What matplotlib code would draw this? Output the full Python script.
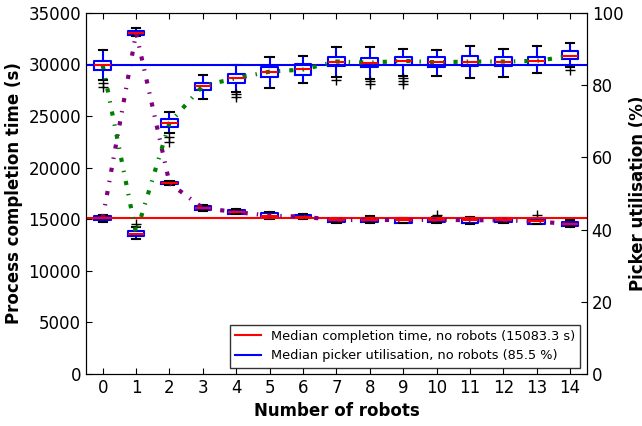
import numpy as np
import matplotlib
matplotlib.use('Agg')
import matplotlib.pyplot as plt
from matplotlib.lines import Line2D

robots = list(range(15))

# process completion time (s), per number of robots
ct_med = [15083, 33050, 18500, 16080, 15690, 15340, 15250, 14900, 14950, 14900, 14950, 14900, 14900, 14780, 14530]
ct_q1 = [14900, 32850, 18400, 15900, 15550, 15200, 15080, 14750, 14700, 14650, 14750, 14600, 14750, 14550, 14350]
ct_q3 = [15300, 33230, 18650, 16240, 15880, 15560, 15440, 15050, 15150, 15100, 15150, 15100, 15100, 14980, 14700]
ct_lo = [14750, 32750, 18280, 15830, 15470, 15060, 15000, 14650, 14600, 14600, 14650, 14550, 14650, 14500, 14250]
ct_hi = [15400, 33500, 18750, 16400, 15950, 15690, 15500, 15150, 15350, 15150, 15250, 15200, 15150, 15100, 14900]
ct_fliers = [[], [], [], [], [], [], [], [], [], [], [15450], [], [], [15450], []]

# picker utilisation (%)
ut_med = [85.5, 38.9, 69.5, 79.8, 81.9, 83.7, 84.3, 86.5, 86.2, 86.7, 86.3, 86.5, 86.5, 86.7, 88.0]
ut_q1 = [84.2, 38.1, 68.3, 78.5, 80.7, 82.3, 82.8, 85.2, 84.9, 85.6, 85.1, 85.2, 85.2, 85.6, 87.2]
ut_q3 = [86.7, 39.5, 70.6, 80.7, 83.1, 85.1, 85.8, 87.7, 87.5, 87.7, 87.8, 88.1, 87.8, 87.8, 89.5]
ut_lo = [81.5, 37.3, 66.7, 76.0, 78.0, 79.1, 80.6, 82.1, 81.7, 82.6, 82.6, 81.9, 82.1, 83.2, 85.1]
ut_hi = [89.7, 40.6, 72.4, 82.7, 85.6, 87.7, 87.9, 90.6, 90.6, 89.9, 89.8, 90.9, 89.9, 90.9, 91.7]
ut_fliers = [[80.5, 79.4], [41.4], [65.5, 64.2], [], [77.5, 76.8], [], [], [81.5],
             [81.2, 80.3], [81.9, 81.0, 80.3], [], [], [], [], [84.2]]

base_ct = 15083.3
base_ut = 85.5

plt.rcParams['font.size'] = 12
plt.rcParams['xtick.direction'] = 'in'
plt.rcParams['ytick.direction'] = 'in'
plt.rcParams['xtick.top'] = True
plt.rcParams['xtick.major.size'] = 4
plt.rcParams['ytick.major.size'] = 4
plt.rcParams['lines.scale_dashes'] = False

def make_stats(med, q1, q3, lo, hi, fl):
    return [dict(med=m, q1=a, q3=b, whislo=l, whishi=h, fliers=f)
            for m, a, b, l, h, f in zip(med, q1, q3, lo, hi, fl)]

props = dict(
    boxprops=dict(color='blue', linewidth=1.5),
    whiskerprops=dict(color='blue', linewidth=1.5, linestyle='-'),
    capprops=dict(color='black', linewidth=1.5),
    medianprops=dict(color='red', linewidth=1.5),
    flierprops=dict(marker='+', markeredgecolor='black', markersize=7),
)

dash = (0, (3, 6.5, 1, 6.5))

fig = plt.figure(figsize=(6.42, 4.26), dpi=100)
ax = fig.add_axes([0.134, 0.122, 0.780, 0.848])
ax2 = ax.twinx()

ax.bxp(make_stats(ct_med, ct_q1, ct_q3, ct_lo, ct_hi, ct_fliers), positions=robots, widths=0.5, **props)
ax.axhline(base_ct, color='red', linewidth=1.5)
ax.plot(robots, ct_med, color='purple', linewidth=3, linestyle=dash)

ax2.bxp(make_stats(ut_med, ut_q1, ut_q3, ut_lo, ut_hi, ut_fliers), positions=robots, widths=0.5, **props)
ax2.axhline(base_ut, color='blue', linewidth=1.5)
ax2.plot(robots, ut_med, color='green', linewidth=3, linestyle=dash)

ax.set_xlim(-0.5, 14.5)
ax.set_xticks(robots)
ax.set_xticklabels([str(r) for r in robots])
ax.set_ylim(0, 35000)
ax2.set_ylim(0, 100)
ax.set_yticks(np.arange(0, 35001, 5000))
ax2.set_yticks(np.arange(0, 101, 20))

ax.set_xlabel('Number of robots', fontweight='bold')
ax.set_ylabel('Process completion time (s)', fontweight='bold')
ax2.set_ylabel('Picker utilisation (%)', fontweight='bold')

handles = [Line2D([], [], color='red'), Line2D([], [], color='blue')]
labels = ['Median completion time, no robots (15083.3 s)',
          'Median picker utilisation, no robots (85.5 %)']
leg = ax2.legend(handles, labels, loc='lower right', fontsize=9.3, fancybox=False)
leg.get_frame().set_edgecolor('black')

fig.savefig('out.png', dpi=100)
